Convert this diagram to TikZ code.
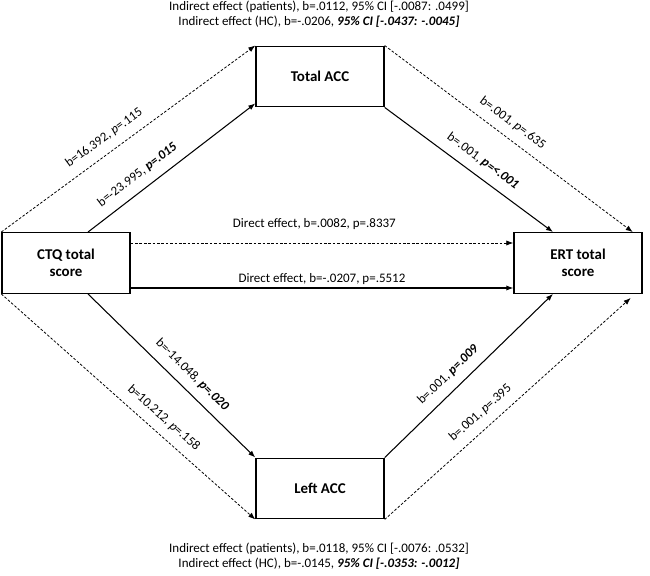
\documentclass[tikz,border=0pt]{standalone}
\usepackage{fontspec}
\setmainfont{Carlito}
\usetikzlibrary{arrows.meta}

\begin{document}
\begin{tikzpicture}[
  box/.style={draw, line width=1.6pt, minimum width=5.12cm, minimum height=2.42cm,
    align=center, font=\fontsize{17}{19}\selectfont\bfseries},
  con/.style={line width=1.2pt, -{Latex[length=8pt,width=6pt]}},
  dotcon/.style={con, line width=0.9pt, dash pattern=on 3pt off 2pt},
  lbl/.style={font=\fontsize{14.8}{16.8}\selectfont, align=center},
  slbl/.style={lbl, sloped, above=7pt}
]
\useasboundingbox (0,0) rectangle (26,23.04);
% the four boxes
\node[box] (ctq) at (2.64,12.52) {CTQ total\\score};
\node[box] (ert) at (23.12,12.52) {ERT total\\score};
\node[box] (tacc) at (12.8,19.98) {Total ACC};
\node[box] (lacc) at (12.8,3.5) {Left ACC};
% indirect effects
\node[lbl] (indtop) at (12.76,22.46) {Indirect effect (patients), b=.0112, 95\% CI [-.0087: .0499]\\
  Indirect effect (HC), b=-.0206, \textbf{\textit{95\% CI [-.0437: -.0045]}}};
\node[lbl] (indbot) at (12.76,0.8) {Indirect effect (patients), b=.0118, 95\% CI [-.0076: .0532]\\
  Indirect effect (HC), b=-.0145, \textbf{\textit{95\% CI [-.0353: -.0012]}}};
% upper paths
\draw[dotcon] (ctq.north west) -- node[slbl, pos=0.44] {b=16.392, \textit{p}=.115} (tacc.north west);
\draw[con] ([xshift=0.88cm]ctq.north) -- node[slbl, pos=0.35] {b=-23.995, \textbf{\textit{p=.015}}} ([yshift=0.16cm]tacc.south west);
\draw[dotcon] (tacc.north east) -- node[slbl, pos=0.48] {b=.001, \textit{p}=.635} ([xshift=-0.4cm]ert.north east);
\draw[con] (tacc.south east) -- node[slbl, pos=0.53] {b=.001, \textbf{\textit{p=<.001}}} ([xshift=-1cm]ert.north);
% direct paths
\draw[dotcon] ([yshift=0.8cm]ctq.east) -- node[lbl, above=12pt, pos=0.48] {Direct effect, b=.0082, p=.8337} ([yshift=0.8cm]ert.west);
\draw[con] ([yshift=-1cm]ctq.east) -- node[lbl, above, pos=0.5] {Direct effect, b=-.0207, p=.5512} ([yshift=-1cm]ert.west);
% lower paths
\draw[dotcon] (ctq.south west) -- node[slbl, pos=0.6] {b=10.212, \textit{p}=.158} (lacc.south west);
\draw[con] ([xshift=0.88cm]ctq.south) -- node[slbl, pos=0.56] {b=-14.048, \textbf{\textit{p=.020}}} (lacc.north west);
\draw[dotcon] (lacc.south east) -- node[slbl, pos=0.43] {b=.001, \textit{p}=.395} ([xshift=-0.48cm,yshift=-0.16cm]ert.south east);
\draw[con] (lacc.north east) -- node[slbl, pos=0.44] {b=.001, \textbf{\textit{p=.009}}} ([xshift=-1cm]ert.south);
\end{tikzpicture}
\end{document}
